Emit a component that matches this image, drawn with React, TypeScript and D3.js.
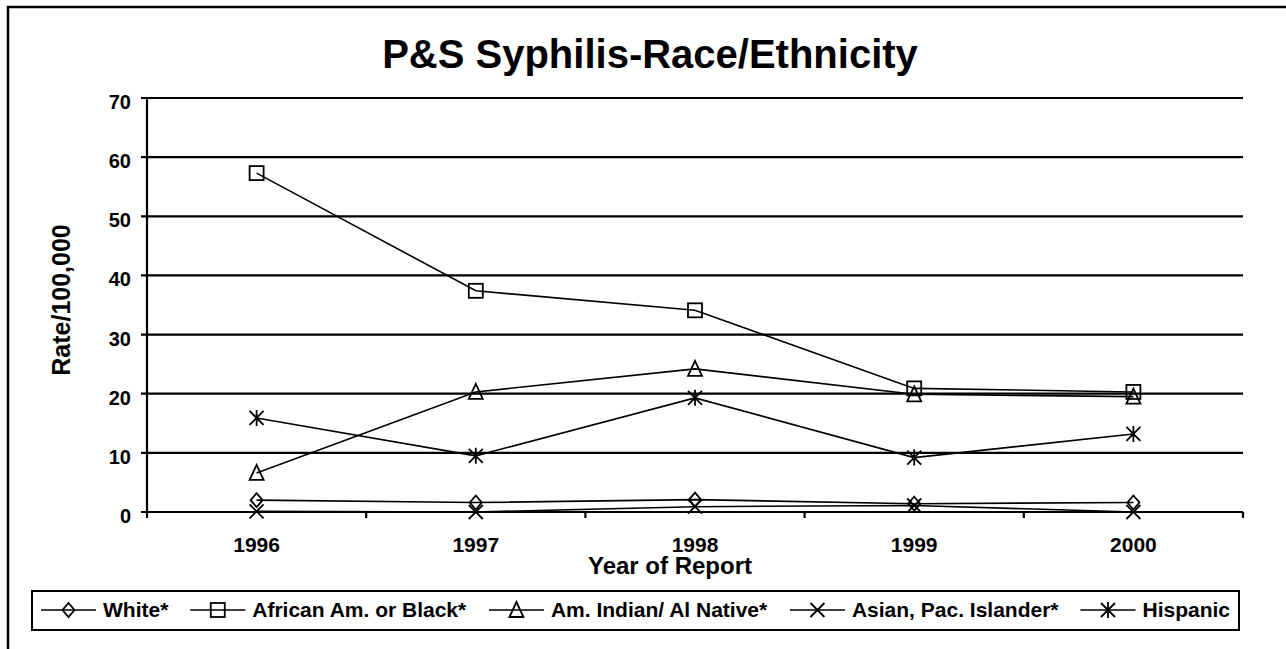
import * as d3 from "d3";
import React from "react";

const W = 1286;
const H = 649;

const years = ["1996", "1997", "1998", "1999", "2000"];
const yTicks = [0, 10, 20, 30, 40, 50, 60, 70];

const white = [2.0, 1.6, 2.1, 1.4, 1.6];
const black = [57.3, 37.4, 34.1, 20.9, 20.3];
const amIndian = [6.6, 20.3, 24.2, 19.9, 19.5];
const asian = [0.1, 0.0, 0.9, 1.1, 0.0];
const hispanic = [15.9, 9.5, 19.3, 9.2, 13.2];

const seriesNames = [
    "White*",
    "African Am. or Black*",
    "Am. Indian/ Al Native*",
    "Asian, Pac. Islander*",
    "Hispanic",
];
const seriesMarkers = ["diamond", "square", "triangle", "x", "star"];
const seriesValues = [white, black, amIndian, asian, hispanic];

const FONT = "'Liberation Sans', Arial, Helvetica, sans-serif";

const plotL = 147;
const plotR = 1243;
const plotT = 98;
const plotB = 512;

function Marker({ kind, x, y }: { kind: string; x: number; y: number }) {
    const s = 7;
    const common = { fill: "none", stroke: "#000", strokeWidth: 1.8 };
    if (kind === "diamond") {
        return (
            <path
                d={`M${x},${y - s} L${x + s - 1},${y} L${x},${y + s} L${x - s + 1},${y} Z`}
                {...common}
            />
        );
    }
    if (kind === "square") {
        return <rect x={x - s} y={y - s} width={2 * s} height={2 * s} {...common} />;
    }
    if (kind === "triangle") {
        return (
            <path
                d={`M${x},${y - s - 1} L${x + s},${y + s} L${x - s},${y + s} Z`}
                {...common}
            />
        );
    }
    if (kind === "x") {
        return (
            <path
                d={`M${x - s},${y - s} L${x + s},${y + s} M${x - s},${y + s} L${x + s},${y - s}`}
                {...common}
            />
        );
    }
    // star: x plus vertical bar
    return (
        <path
            d={`M${x - s},${y - s} L${x + s},${y + s} M${x - s},${y + s} L${x + s},${y - s} M${x},${y - s - 1} L${x},${y + s + 1}`}
            {...common}
        />
    );
}

export default function App() {
    const x = d3.scaleBand<string>().domain(years).range([plotL, plotR]);
    const xc = (yr: string) => (x(yr) ?? 0) + x.bandwidth() / 2;
    const y = d3.scaleLinear().domain([0, 70]).range([plotB, plotT]);

    const line = d3
        .line<number>()
        .x((_, i) => xc(years[i]))
        .y((d) => y(d));

    // legend layout
    const ctx = document.createElement("canvas").getContext("2d")!;
    ctx.font = `bold 21px ${FONT}`;
    const legL = 32;
    const legR = 1239;
    const legT = 591;
    const legB = 630;
    const legY = 610;
    const sampleLen = 55;
    const textGap = 7;
    const widths = seriesNames.map((n) => ctx.measureText(n).width);
    const totalW = widths.reduce((a, b) => a + b, 0) + seriesNames.length * (sampleLen + textGap);
    const gap = (legR - legL - 18 - totalW) / (seriesNames.length - 1);
    let cursor = legL + 9;
    const legendItems = seriesNames.map((n, i) => {
        const x0 = cursor;
        cursor += sampleLen + textGap + widths[i] + gap;
        return { name: n, x0, marker: seriesMarkers[i] };
    });

    return (
        <svg width={W} height={H} style={{ position: "absolute", left: 0, top: 0, background: "#fff" }}>
            <rect x={0} y={0} width={W} height={H} fill="#fff" />
            {/* outer frame */}
            <rect x={8} y={7} width={W + 20} height={H + 20} fill="none" stroke="#000" strokeWidth={2.5} />

            <text
                x={650}
                y={68}
                textAnchor="middle"
                fontFamily={FONT}
                fontWeight="bold"
                fontSize={40}
            >
                P&amp;S Syphilis-Race/Ethnicity
            </text>

            {/* gridlines */}
            {yTicks.map((t) => (
                <g key={t}>
                    <line x1={plotL - 6} x2={plotR} y1={y(t)} y2={y(t)} stroke="#000" strokeWidth={2.2} />
                    <text
                        x={131}
                        y={y(t) + 11}
                        textAnchor="end"
                        fontFamily={FONT}
                        fontWeight="bold"
                        fontSize={20}
                    >
                        {t}
                    </text>
                </g>
            ))}

            {/* y axis */}
            <line x1={plotL} x2={plotL} y1={plotT} y2={plotB + 6} stroke="#000" strokeWidth={2.2} />

            {/* x ticks at band edges */}
            {years.map((yr) => (
                <line
                    key={"t" + yr}
                    x1={(x(yr) ?? 0) + x.bandwidth()}
                    x2={(x(yr) ?? 0) + x.bandwidth()}
                    y1={plotB}
                    y2={plotB + 6}
                    stroke="#000"
                    strokeWidth={2.2}
                />
            ))}
            {years.map((yr) => (
                <text
                    key={"l" + yr}
                    x={xc(yr)}
                    y={552}
                    textAnchor="middle"
                    fontFamily={FONT}
                    fontWeight="bold"
                    fontSize={21}
                >
                    {yr}
                </text>
            ))}

            <text x={670} y={574} textAnchor="middle" fontFamily={FONT} fontWeight="bold" fontSize={24}>
                Year of Report
            </text>
            <text
                transform="translate(70,300) rotate(-90)"
                textAnchor="middle"
                fontFamily={FONT}
                fontWeight="bold"
                fontSize={25}
            >
                Rate/100,000
            </text>

            {/* series */}
            {seriesValues.map((vals, si) => (
                <g key={"s" + si}>
                    <path d={line(vals) ?? ""} fill="none" stroke="#000" strokeWidth={1.6} />
                    {vals.map((v, i) => (
                        <Marker key={i} kind={seriesMarkers[si]} x={xc(years[i])} y={y(v)} />
                    ))}
                </g>
            ))}

            {/* legend */}
            <rect x={legL} y={legT} width={legR - legL} height={legB - legT} fill="none" stroke="#000" strokeWidth={2} />
            {legendItems.map((it) => (
                <g key={it.name}>
                    <line x1={it.x0} x2={it.x0 + sampleLen} y1={legY} y2={legY} stroke="#000" strokeWidth={1.6} />
                    <Marker kind={it.marker} x={it.x0 + sampleLen / 2} y={legY} />
                    <text
                        x={it.x0 + sampleLen + textGap}
                        y={legY + 7}
                        fontFamily={FONT}
                        fontWeight="bold"
                        fontSize={21}
                    >
                        {it.name}
                    </text>
                </g>
            ))}
        </svg>
    );
}
